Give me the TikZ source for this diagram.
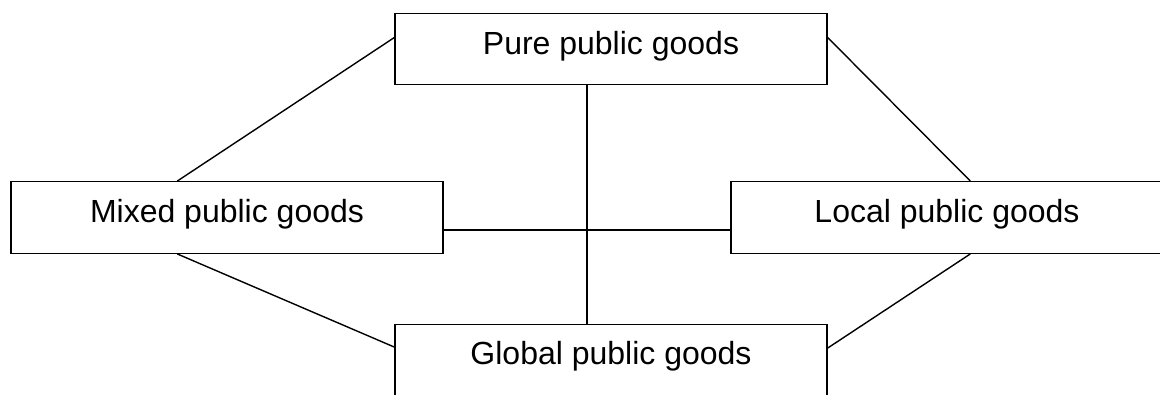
\documentclass[tikz,border=0pt]{standalone}
\usepackage{fontspec}
\setmainfont{Liberation Sans}
\usetikzlibrary{calc}
\begin{document}
\begin{tikzpicture}[x=1pt,y=-1pt,
  goodbox/.style={draw,line width=1.4pt,rectangle,minimum width=432pt,minimum height=71.5pt,inner sep=0pt},
  goodlabel/.style={anchor=base,inner sep=0pt,font=\fontsize{32}{38}\selectfont},
  link/.style={line width=1.4pt}]
\useasboundingbox (0,0) rectangle (1160,394);

% the four kinds of public goods
\node[goodbox] (pure)   at (611,49)    {};
\node[goodbox] (mixed)  at (227,217.5) {};
\node[goodbox] (local)  at (947,217.5) {};
\node[goodbox] (global) at (611,360.5) {};

\node[goodlabel] (pureT)   at ($(pure.north)+(0,-42pt)$)   {Pure public goods};
\node[goodlabel] (mixedT)  at ($(mixed.north)+(0,-41pt)$)  {Mixed public goods};
\node[goodlabel] (localT)  at ($(local.north)+(0,-41pt)$)  {Local public goods};
\node[goodlabel] (globalT) at ($(global.north)+(0,-40pt)$) {Global public goods};

% connections between the boxes
\draw[link] ($(pure.north west)+(0,-25pt)$) -- ($(mixed.north west)+(167pt,0)$);
\draw[link] ($(pure.north east)+(0,-25pt)$) -- ($(local.north west)+(240pt,0)$);
\draw[link] ($(mixed.south west)+(167pt,0)$) -- ($(global.north west)+(0,-23pt)$);
\draw[link] ($(local.south west)+(240pt,0)$) -- ($(global.north east)+(0,-24pt)$);
\draw[link] ($(pure.south)+(-24pt,0)$) -- ($(global.north)+(-24pt,0)$);
\draw[link] ($(mixed.east)+(0,-12.5pt)$) -- ($(local.west)+(0,-12.5pt)$);
\end{tikzpicture}
\end{document}
